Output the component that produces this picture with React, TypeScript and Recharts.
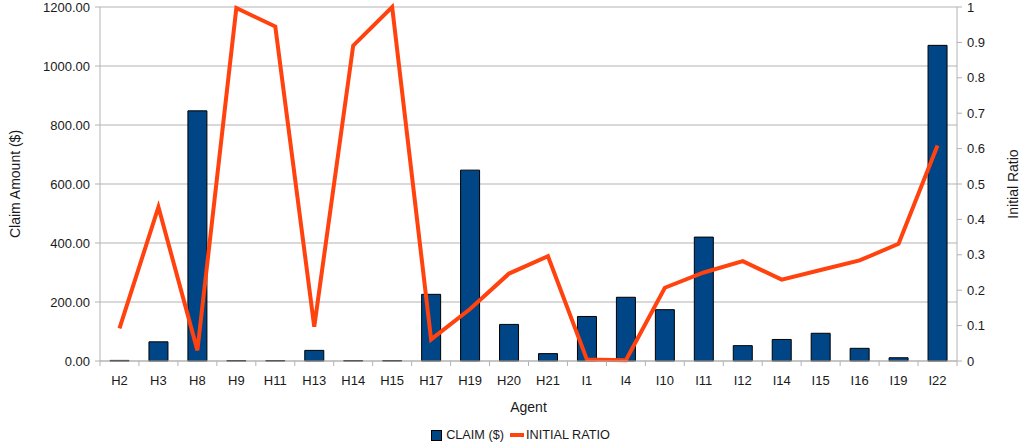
import {
  Bar,
  CartesianGrid,
  ComposedChart,
  Legend,
  Line,
  XAxis,
  YAxis,
} from 'recharts'

const agents = [
  'H2', 'H3', 'H8', 'H9', 'H11', 'H13', 'H14', 'H15', 'H17', 'H19', 'H20',
  'H21', 'I1', 'I4', 'I10', 'I11', 'I12', 'I14', 'I15', 'I16', 'I19', 'I22',
]
const claims = [
  2, 65, 848, 1.5, 1.5, 36, 1.5, 1.5, 226, 647, 124,
  25, 151, 216, 174, 420, 52, 73, 94, 43, 11, 1070,
]
const initialRatio = [
  0.092, 0.435, 0.03, 0.997, 0.945, 0.097, 0.891, 1.0, 0.061, 0.147, 0.247,
  0.296, 0.004, 0.002, 0.207, 0.25, 0.282, 0.23, 0.257, 0.284, 0.331, 0.609,
]
const claimTicks = [0, 200, 400, 600, 800, 1000, 1200]
const ratioTicks = [0, 0.1, 0.2, 0.3, 0.4, 0.5, 0.6, 0.7, 0.8, 0.9, 1]
const ratioLabels = ['0', '0.1', '0.2', '0.3', '0.4', '0.5', '0.6', '0.7', '0.8', '0.9', '1']

const data = agents.map((agent, i) => ({
  agent,
  claim: claims[i],
  ratio: initialRatio[i],
}))

const W = 1029
const H = 444
const LEFT_W = 100
const RIGHT_W = 72
const band = (W - LEFT_W - RIGHT_W) / agents.length
const font = '"Liberation Sans", Arial, sans-serif'
const textColor = '#1a1a1a'
const gridColor = '#b3b3b3'
const barColor = '#004586'
const lineColor = '#ff420e'

// category separators like the original (ticks sit between agents, not under them)
function AgentTick(props: any) {
  const { x, y, payload, index } = props
  const last = index === agents.length - 1
  return (
    <g>
      <line x1={x - band / 2} x2={x - band / 2} y1={y} y2={y + 5} stroke={gridColor} />
      {last && <line x1={x + band / 2} x2={x + band / 2} y1={y} y2={y + 5} stroke={gridColor} />}
      <text x={x} y={y} dy={24} textAnchor="middle" fill={textColor} fontSize={13} fontFamily={font}>
        {payload.value}
      </text>
    </g>
  )
}

function LegendBox() {
  return (
    <div
      style={{
        height: 24,
        boxSizing: 'border-box',
        paddingTop: 10,
        display: 'flex',
        justifyContent: 'center',
        alignItems: 'flex-start',
        fontFamily: font,
        fontSize: 12.7,
        lineHeight: '14px',
        color: textColor,
        paddingLeft: 12,
      }}
    >
      <span style={{ width: 9, height: 9, marginTop: 2, background: barColor, border: '1px solid #000', marginRight: 4 }} />
      <span style={{ marginRight: 6 }}>CLAIM ($)</span>
      <span style={{ width: 14, height: 4, marginTop: 5, background: lineColor, marginRight: 2 }} />
      <span>INITIAL RATIO</span>
    </div>
  )
}

export default function App() {
  return (
    <div style={{ position: 'absolute', left: 0, top: 0, background: '#fff' }}>
      <ComposedChart
        width={W}
        height={H}
        data={data}
        margin={{ top: 7, right: 0, bottom: 2, left: 0 }}
        style={{ fontFamily: font }}
      >
        <CartesianGrid yAxisId="left" vertical={false} stroke={gridColor} />
        <XAxis
          dataKey="agent"
          height={57}
          interval={0}
          tickLine={false}
          tickSize={0}
          tickMargin={0}
          stroke={gridColor}
          tick={<AgentTick />}
          label={{ value: 'Agent', position: 'insideBottom', offset: 6, fill: textColor, fontSize: 14, fontFamily: font }}
        />
        <YAxis
          yAxisId="left"
          width={LEFT_W}
          domain={[0, 1200]}
          ticks={claimTicks}
          interval={0}
          tickFormatter={(v: number) => v.toFixed(2)}
          stroke={gridColor}
          tickSize={5}
          tickMargin={5}
          tick={{ fill: textColor, fontSize: 13, fontFamily: font }}
          label={{ value: 'Claim Amount ($)', angle: -90, position: 'center', dx: -35, fill: textColor, fontSize: 14, fontFamily: font }}
        />
        <YAxis
          yAxisId="right"
          orientation="right"
          width={RIGHT_W}
          domain={[0, 1]}
          ticks={ratioTicks}
          interval={0}
          tickFormatter={(v: number) => ratioLabels[ratioTicks.indexOf(v)] ?? String(v)}
          stroke={gridColor}
          tickSize={5}
          tickMargin={5}
          tick={{ fill: textColor, fontSize: 13, fontFamily: font }}
          label={{ value: 'Initial Ratio', angle: -90, position: 'center', dx: 20, fill: textColor, fontSize: 14, fontFamily: font }}
        />
        <Legend verticalAlign="bottom" content={<LegendBox />} />
        <Bar
          yAxisId="left"
          dataKey="claim"
          name="CLAIM ($)"
          fill={barColor}
          stroke="#000"
          strokeWidth={1}
          barSize={19}
          isAnimationActive={false}
        />
        <Line
          yAxisId="right"
          dataKey="ratio"
          name="INITIAL RATIO"
          type="linear"
          stroke={lineColor}
          strokeWidth={4}
          dot={false}
          activeDot={false}
          isAnimationActive={false}
        />
      </ComposedChart>
    </div>
  )
}
